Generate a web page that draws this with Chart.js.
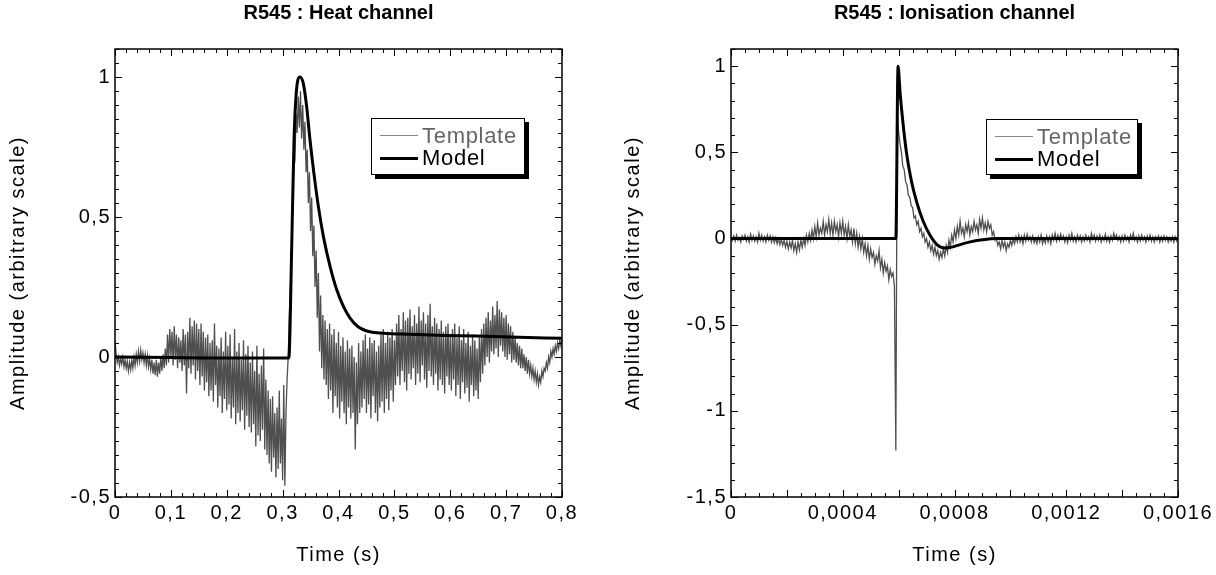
<!DOCTYPE html>
<html>
<head>
<meta charset="utf-8">
<script src="https://cdn.jsdelivr.net/npm/chart.js@4"></script>
<style>
  body { margin: 0; width: 1216px; height: 575px; background: #fff; position: relative; overflow: hidden; font-family: "Liberation Sans", Arial, sans-serif; }
  canvas { position: absolute; top: 0; }
  .title { position: absolute; top: 0; width: 447px; text-align: center; font-weight: bold; font-size: 20px; line-height: 24px; color: #000; }
  .legend { position: absolute; background: #fff; border: 1px solid #000; box-shadow: 4px 4px 0 #000; box-sizing: border-box; }
  .legend .line { position: absolute; left: 8px; width: 38px; }
  .legend .txt { position: absolute; left: 50px; font-size: 22px; line-height: 22px; letter-spacing: 0.7px; white-space: nowrap; }
</style>
</head>
<body>
<canvas id="heat" width="608" height="575" style="left:0"></canvas>
<canvas id="ion" width="608" height="575" style="left:608px"></canvas>

<div class="title" style="left:115px">R545 : Heat channel</div>
<div class="title" style="left:731px">R545 : Ionisation channel</div>

<div class="legend" style="left:371px; top:118px; width:154px; height:57px">
  <div class="line" style="top:16px; border-top:1px solid #888"></div>
  <div class="txt" style="top:6px; color:#666">Template</div>
  <div class="line" style="top:38px; border-top:3px solid #000"></div>
  <div class="txt" style="top:28px; color:#000">Model</div>
</div>
<div class="legend" style="left:986px; top:119px; width:152px; height:56px">
  <div class="line" style="top:16px; border-top:1px solid #888"></div>
  <div class="txt" style="top:6px; color:#666">Template</div>
  <div class="line" style="top:38px; border-top:3px solid #000"></div>
  <div class="txt" style="top:28px; color:#000">Model</div>
</div>

<script>
// heat channel (sampled every 2 ms)
const heatStep = 0.002
const heatTemplate = [
  0.06, 0.01, -0.02, 0.0, -0.03, -0.005, -0.025, 0.0, -0.035, -0.01,
  -0.04, -0.015, -0.05, -0.02, -0.045, -0.01, -0.04, 0.0, -0.03, 0.01,
  -0.02, 0.02, -0.015, 0.025, -0.01, 0.015, -0.02, 0.01, -0.03, 0.005,
  -0.035, -0.005, -0.045, -0.01, -0.06, -0.02, -0.065, -0.01, -0.07, -0.02,
  -0.06, 0.0, -0.05, 0.01, -0.04, 0.03, -0.03, 0.08, -0.02, 0.1,
  0.0, 0.09, -0.03, 0.11, -0.01, 0.08, -0.04, 0.07, -0.02, 0.06,
  -0.05, 0.1, -0.03, 0.08, -0.13, 0.09, -0.04, 0.14, -0.06, 0.11,
  -0.03, 0.13, -0.08, 0.12, -0.05, 0.1, -0.1, 0.12, -0.07, 0.09,
  -0.12, 0.07, -0.09, 0.08, -0.14, 0.05, -0.12, 0.06, -0.16, 0.12,
  -0.1, 0.04, -0.18, 0.03, -0.14, 0.07, -0.2, 0.02, -0.15, 0.09,
  -0.19, 0.04, -0.17, 0.08, -0.22, 0.0, -0.18, 0.1, -0.24, 0.02,
  -0.2, 0.05, -0.23, -0.01, -0.19, 0.06, -0.26, 0.01, -0.21, 0.04,
  -0.25, -0.02, -0.27, 0.02, -0.24, -0.05, -0.32, 0.04, -0.28, -0.06,
  -0.3, -0.03, -0.26, 0.03, -0.33, -0.08, -0.35, -0.12, -0.38, -0.15,
  -0.41, -0.14, -0.36, -0.2, -0.43, -0.18, -0.4, -0.12, -0.38, -0.22,
  -0.44, -0.1, -0.46, -0.2, -0.08, 0.0, 0.15, 0.25, 0.38, 0.55,
  0.68, 0.7, 0.87, 0.8, 0.93, 0.82, 0.95, 0.78, 0.9, 0.74,
  0.84, 0.66, 0.74, 0.55, 0.66, 0.45, 0.57, 0.36, 0.47, 0.25,
  0.38, 0.14, 0.3, 0.02, 0.22, -0.04, 0.15, -0.08, 0.13, -0.1,
  0.1, -0.15, 0.12, -0.12, 0.08, -0.2, 0.1, -0.14, 0.05, -0.18,
  0.09, -0.22, 0.04, -0.16, 0.07, -0.2, 0.02, -0.24, 0.06, -0.18,
  0.03, -0.22, 0.04, -0.2, 0.0, -0.33, -0.02, -0.24, 0.05, -0.2,
  0.02, -0.18, 0.06, -0.15, 0.08, -0.2, 0.03, -0.17, 0.07, -0.22,
  0.05, -0.14, 0.06, -0.2, 0.02, -0.23, 0.04, -0.18, 0.08, -0.16,
  0.1, -0.2, 0.05, -0.15, 0.09, -0.19, 0.07, -0.12, 0.1, -0.16,
  0.06, -0.1, 0.12, -0.07, 0.15, -0.1, 0.1, -0.05, 0.16, -0.09,
  0.13, -0.12, 0.14, -0.06, 0.17, -0.08, 0.11, -0.04, 0.15, -0.1,
  0.12, -0.06, 0.18, -0.09, 0.13, -0.03, 0.16, -0.08, 0.12, -0.11,
  0.15, -0.05, 0.19, -0.07, 0.11, -0.1, 0.14, -0.06, 0.12, -0.12,
  0.1, -0.08, 0.13, -0.1, 0.09, -0.13, 0.11, -0.07, 0.12, -0.1,
  0.08, -0.12, 0.1, -0.08, 0.12, -0.14, 0.07, -0.1, 0.11, -0.15,
  0.06, -0.09, 0.1, -0.13, 0.05, -0.11, 0.09, -0.16, 0.04, -0.1,
  0.08, -0.14, 0.06, -0.12, 0.03, -0.15, 0.07, -0.09, 0.1, -0.06,
  0.12, -0.03, 0.14, 0.0, 0.16, -0.02, 0.13, 0.02, 0.18, 0.01,
  0.15, 0.03, 0.2, 0.0, 0.17, 0.04, 0.16, 0.02, 0.14, 0.0,
  0.15, -0.01, 0.12, 0.01, 0.11, -0.02, 0.09, -0.01, 0.07, -0.02,
  0.05, -0.03, 0.04, -0.04, 0.03, -0.04, 0.01, -0.05, 0.0, -0.06,
  -0.01, -0.06, -0.03, -0.07, -0.04, -0.08, -0.05, -0.09, -0.06, -0.1,
  -0.07, -0.09, -0.05, -0.07, -0.04, -0.05, -0.02, -0.04, 0.0, -0.02,
  0.02, 0.0, 0.03, 0.01, 0.04, 0.02, 0.05, 0.03, 0.06, 0.04,
  0.07
]
const heatModelTime = [0, 0.1, 0.2, 0.31, 0.3114, 0.3162, 0.3204, 0.3239, 0.3281, 0.3311, 0.337, 0.343, 0.349, 0.356,
  0.364, 0.373, 0.385, 0.397, 0.409, 0.421, 0.435, 0.456, 0.48, 0.528, 0.588, 0.647, 0.707, 0.8]
const heatModel = [0, -0.002, -0.004, -0.004, 0, 0.39, 0.775, 0.93, 0.995, 1.0, 0.977, 0.894, 0.775, 0.656,
  0.537, 0.43, 0.323, 0.239, 0.18, 0.138, 0.108, 0.09, 0.085, 0.081, 0.077, 0.075, 0.071, 0.067]
const heatXTicks = [0, 0.1, 0.2, 0.3, 0.4, 0.5, 0.6, 0.7, 0.8]
const heatYTicks = [-0.5, 0, 0.5, 1]

// ionisation channel (sampled every 5 us)
const ionStep = 0.000005
const ionTemplate = [
  0.01, -0.01, 0.015, -0.015, 0.02, -0.01, 0.005, -0.02, 0.015, -0.005,
  0.02, -0.015, 0.01, -0.02, 0.025, -0.01, 0.015, -0.015, 0.01, -0.02,
  0.03, -0.01, 0.02, -0.015, 0.01, -0.02, 0.02, -0.01, 0.015, -0.02,
  0.01, -0.025, 0.005, -0.03, 0.0, -0.035, -0.005, -0.04, -0.01, -0.05,
  -0.015, -0.06, -0.02, -0.055, -0.01, -0.07, -0.03, -0.08, -0.02, -0.065,
  -0.01, -0.05, 0.0, -0.04, 0.02, -0.02, 0.03, -0.01, 0.05, 0.0,
  0.07, 0.01, 0.09, 0.02, 0.06, 0.03, 0.1, 0.02, 0.08, 0.04,
  0.11, 0.03, 0.09, 0.02, 0.1, 0.04, 0.08, 0.01, 0.09, 0.03,
  0.1, 0.02, 0.07, 0.0, 0.08, 0.01, 0.05, -0.02, 0.06, -0.03,
  0.03, -0.05, 0.01, -0.06, 0.0, -0.08, -0.03, -0.1, -0.04, -0.12,
  -0.06, -0.11, -0.08, -0.15, -0.1, -0.13, -0.07, -0.17, -0.12, -0.2,
  -0.14, -0.19, -0.16, -0.24, -0.18, -0.22, -0.2, -0.28, -1.23, 0.72,
  0.62, 0.55, 0.5, 0.42, 0.4, 0.33, 0.31, 0.25, 0.24, 0.19,
  0.18, 0.12, 0.13, 0.08, 0.1, 0.04, 0.06, 0.01, 0.03, -0.02,
  0.0, -0.05, -0.02, -0.07, -0.04, -0.09, -0.05, -0.1, -0.07, -0.12,
  -0.08, -0.11, -0.06, -0.1, -0.04, -0.08, -0.01, -0.05, 0.02, -0.02,
  0.05, 0.0, 0.07, 0.02, 0.1, 0.03, 0.06, 0.01, 0.08, 0.04,
  0.09, 0.02, 0.07, 0.04, 0.1, 0.05, 0.08, 0.03, 0.11, 0.06,
  0.12, 0.05, 0.09, 0.04, 0.1, 0.06, 0.08, 0.02, 0.04, -0.01,
  0.0, -0.04, -0.02, -0.06, -0.01, -0.05, -0.02, -0.07, -0.03, -0.05,
  -0.01, -0.04, 0.0, -0.03, 0.01, -0.02, 0.02, -0.02, 0.01, -0.03,
  0.02, -0.015, 0.025, -0.01, 0.01, -0.02, 0.015, -0.025, 0.0, -0.03,
  0.01, -0.02, 0.02, -0.03, 0.0, -0.025, 0.015, -0.02, 0.01, -0.03,
  0.02, -0.01, 0.03, -0.015, 0.02, -0.01, 0.025, -0.005, 0.015, -0.02,
  0.01, -0.025, 0.02, -0.01, 0.03, -0.015, 0.01, -0.02, 0.02, -0.01,
  0.015, -0.02, 0.01, -0.015, 0.02, -0.01, 0.01, -0.02, 0.03, -0.005,
  0.02, -0.015, 0.015, -0.01, 0.02, -0.02, 0.01, -0.01, 0.025, -0.015,
  0.01, -0.02, 0.015, -0.01, 0.03, 0.0, 0.02, -0.01, 0.01, -0.02,
  0.015, -0.015, 0.02, -0.01, 0.01, -0.02, 0.02, -0.005, 0.03, -0.01,
  0.01, -0.02, 0.015, -0.015, 0.02, -0.01, 0.01, -0.02, 0.015, -0.01,
  0.02, -0.015, 0.01, -0.02, 0.01, -0.01, 0.015, -0.02, 0.01, -0.015,
  0.015, -0.01, 0.01, -0.02, 0.005, -0.015, 0.01, -0.02, 0.01, -0.015,
  0.0
]
const ionModelTime = [0, 0.00059, 0.000598, 0.000605, 0.000615, 0.000628, 0.000645, 0.000665, 0.000688, 0.000712,
  0.000737, 0.000765, 0.00079, 0.00082, 0.00086, 0.0009, 0.00095, 0.001, 0.0016]
const ionModel = [0, 0, 1.0, 0.85, 0.68, 0.5, 0.34, 0.21, 0.1, 0.02,
  -0.035, -0.055, -0.05, -0.035, -0.018, -0.007, 0, 0, 0]
const ionXTicks = [0, 0.0004, 0.0008, 0.0012, 0.0016]
const ionYTicks = [-1.5, -1, -0.5, 0, 0.5, 1]

const templateColor = '#4f4f4f'
const fontFamily = '"Liberation Sans", Arial, sans-serif'

// virgule comme separateur decimal
function fmt(v) {
  return String(v).replace('.', ',')
}

function marks(scale, minor, major) {
  let n = Math.round((scale.max - scale.min) / minor)
  let out = []
  for (let k = 0; k <= n; k++) {
    let v = scale.min + k * minor
    let r = v / major
    out.push({ v: v, major: Math.abs(r - Math.round(r)) < 1e-6 })
  }
  return out
}

// texte un peu espace comme dans l'original
const spacing = {
  id: 'spacing',
  beforeDraw(chart) {
    chart.ctx.letterSpacing = '1.5px'
  }
}

// cadre + petits traits vers l'interieur sur les 4 cotes
const frameTicks = {
  id: 'frameTicks',
  afterDraw(chart, args, opts) {
    const { ctx, chartArea: a } = chart
    const x = chart.scales.x, y = chart.scales.y
    ctx.save()
    ctx.strokeStyle = '#000'
    ctx.lineWidth = 1
    ctx.beginPath()
    marks(x, opts.xMinor, opts.xMajor).forEach(m => {
      let px = Math.round(x.getPixelForValue(m.v)) + 0.5
      let len = m.major ? 7 : 4
      ctx.moveTo(px, a.bottom); ctx.lineTo(px, a.bottom - len)
      ctx.moveTo(px, a.top); ctx.lineTo(px, a.top + len)
    })
    marks(y, opts.yMinor, opts.yMajor).forEach(m => {
      let py = Math.round(y.getPixelForValue(m.v)) + 0.5
      let len = m.major ? 7 : 4
      ctx.moveTo(a.left, py); ctx.lineTo(a.left + len, py)
      ctx.moveTo(a.right, py); ctx.lineTo(a.right - len, py)
    })
    ctx.stroke()
    ctx.lineWidth = 1.5
    ctx.strokeRect(a.left, a.top, a.right - a.left, a.bottom - a.top)
    ctx.restore()
  }
}

function printChart(canvasId, cfg) {
  let templatePts = cfg.template.map((v, i) => ({ x: i * cfg.step, y: v }))
  let modelPts = cfg.modelTime.map((t, i) => ({ x: t, y: cfg.model[i] }))

  return new Chart(document.getElementById(canvasId), {
    type: 'line',
    data: {
      datasets: [{
        label: 'Model',
        data: modelPts,
        borderColor: '#000',
        borderWidth: 3,
        pointRadius: 0,
        cubicInterpolationMode: 'monotone',
        order: 0
      }, {
        label: 'Template',
        data: templatePts,
        borderColor: templateColor,
        borderWidth: 1.3,
        pointRadius: 0,
        tension: 0,
        order: 1
      }]
    },
    plugins: [spacing, frameTicks],
    options: {
      responsive: false,
      animation: false,
      events: [],
      layout: { padding: { left: 0, right: cfg.padRight, top: 49, bottom: 0 } },
      plugins: {
        legend: { display: false },
        tooltip: { enabled: false },
        title: { display: false },
        frameTicks: cfg.ticks
      },
      scales: {
        x: {
          type: 'linear',
          min: cfg.xTicks[0],
          max: cfg.xTicks[cfg.xTicks.length - 1],
          afterBuildTicks: s => { s.ticks = cfg.xTicks.map(v => ({ value: v })) },
          afterFit: s => { s.height = 78 },
          grid: { display: false, drawTicks: false },
          border: { display: false },
          ticks: { color: '#000', padding: 4, maxRotation: 0, font: { family: fontFamily, size: 20 }, callback: fmt },
          title: { display: true, text: 'Time (s)', color: '#000', padding: { top: 0, bottom: 8 }, font: { family: fontFamily, size: 20, lineHeight: 1.2 } }
        },
        y: {
          type: 'linear',
          min: cfg.yMin,
          max: 1.1,
          afterBuildTicks: s => { s.ticks = cfg.yTicks.map(v => ({ value: v })) },
          afterFit: s => { s.width = cfg.yWidth },
          grid: { display: false, drawTicks: false },
          border: { display: false },
          ticks: { color: '#000', padding: 4, font: { family: fontFamily, size: 20 }, callback: fmt },
          title: { display: true, text: 'Amplitude (arbitrary scale)', color: '#000', padding: { top: cfg.yTitlePad, bottom: 0 }, font: { family: fontFamily, size: 20, lineHeight: 1.2 } }
        }
      }
    }
  })
}

printChart('heat', {
  step: heatStep, template: heatTemplate,
  modelTime: heatModelTime, model: heatModel,
  xTicks: heatXTicks, yTicks: heatYTicks, yMin: -0.5,
  yWidth: 115, padRight: 46, yTitlePad: 6,
  ticks: { xMinor: 0.02, xMajor: 0.1, yMinor: 0.05, yMajor: 0.5 }
})

printChart('ion', {
  step: ionStep, template: ionTemplate,
  modelTime: ionModelTime, model: ionModel,
  xTicks: ionXTicks, yTicks: ionYTicks, yMin: -1.5,
  yWidth: 123, padRight: 38, yTitlePad: 13,
  ticks: { xMinor: 0.00005, xMajor: 0.0002, yMinor: 0.1, yMajor: 0.5 }
})
</script>
</body>
</html>
